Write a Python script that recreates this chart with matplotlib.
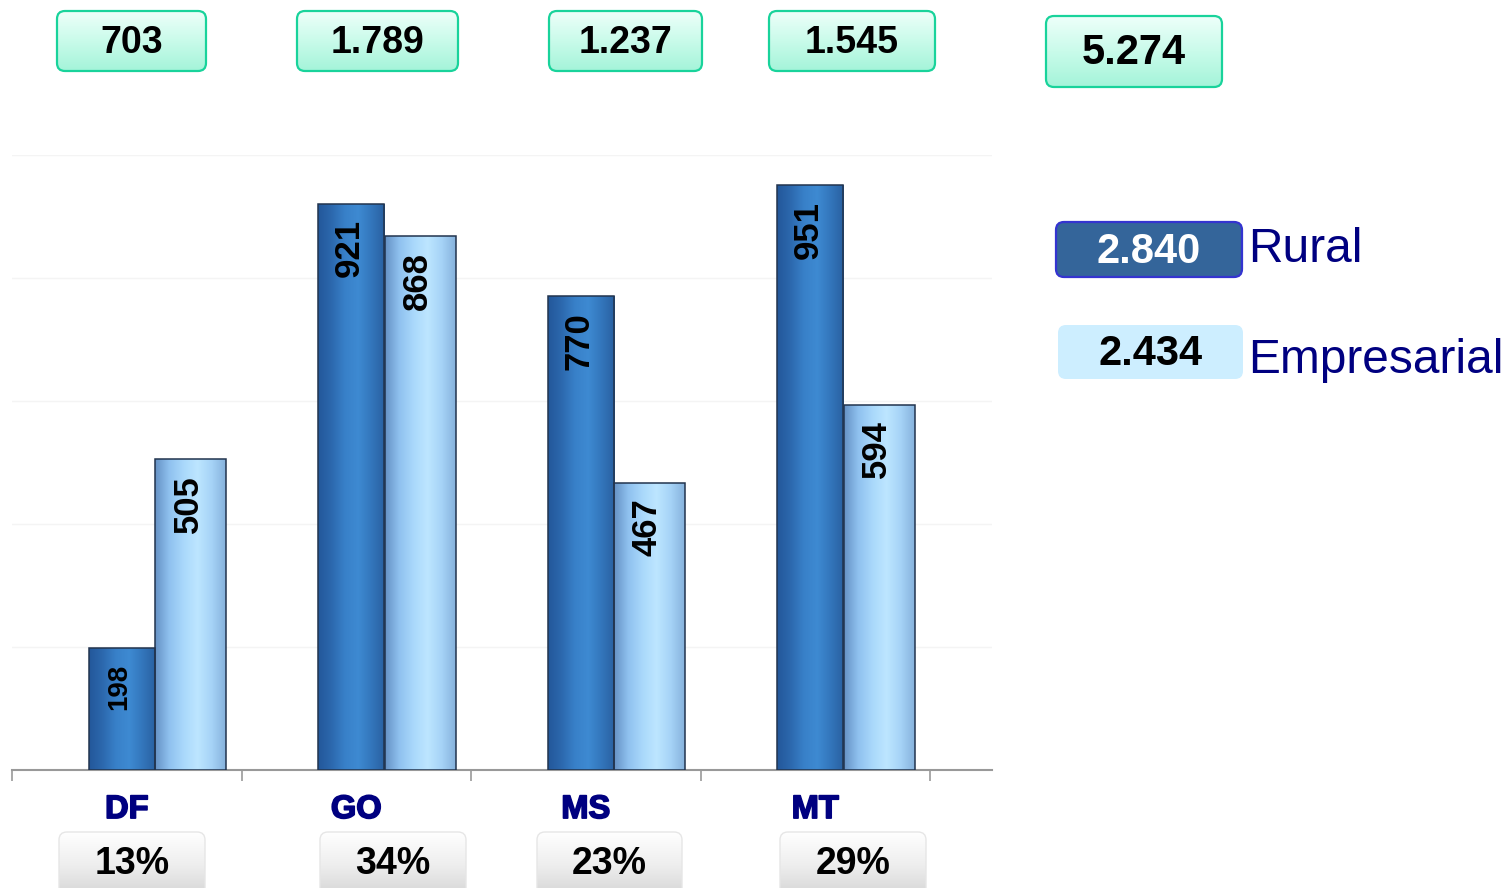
import matplotlib
matplotlib.use('Agg')
import matplotlib.pyplot as plt
import matplotlib.patheffects as pe
import numpy as np
from matplotlib import font_manager
from matplotlib.patches import FancyBboxPatch
from matplotlib.colors import LinearSegmentedColormap

# data
states = ['DF', 'GO', 'MS', 'MT']
rural = [198, 921, 770, 951]
empresarial = [505, 868, 467, 594]
series_names = ['Rural', 'Empresarial']

totals = [r + e for r, e in zip(rural, empresarial)]
grand = sum(totals)


def fmt(n):
    return f'{n:,}'.replace(',', '.')


plt.rcParams['font.family'] = ['Liberation Sans', 'DejaVu Sans']
names = {f.name for f in font_manager.fontManager.ttflist}
narrow = 'Liberation Sans Narrow' in names
bar_font = ['Liberation Sans Narrow', 'Liberation Sans'] if narrow else ['Liberation Sans']
bar_fs = 29 if narrow else 25

W, H = 1510, 888
fig = plt.figure(figsize=(W / 100, H / 100), dpi=100)

# bar chart axes
ax = fig.add_axes([12 / W, 118 / H, 980 / W, 615 / H], zorder=1)
# overlay in pixel coordinates for the boxes
over = fig.add_axes([0, 0, 1, 1], zorder=2)
over.axis('off')

dark = LinearSegmentedColormap.from_list(
    'dark', ['#23579a', '#2c68ad', '#3880c8', '#3e8ad2', '#3376bc', '#2960a0'])
light = LinearSegmentedColormap.from_list(
    'light', ['#6591c4', '#8fc1ef', '#a9d8fb', '#bde6ff', '#a6d3f7', '#86b2dc'])
hgrad = np.linspace(0, 1, 256).reshape(1, -1)

x = np.arange(len(states))
for vals, off, w, cmap in [(rural, 0.479, 0.288, dark),
                           (empresarial, 0.778, 0.309, light)]:
    bars = ax.bar(x + off, vals, width=w, facecolor='none',
                  edgecolor='#22344e', linewidth=1.1, zorder=4)
    for b, v in zip(bars, vals):
        x0 = b.get_x()
        im = ax.imshow(hgrad, cmap=cmap, extent=[x0, x0 + b.get_width(), 0, v],
                       aspect='auto', interpolation='bicubic', zorder=3)
        im.set_clip_path(b)
        fs = bar_fs if v > 300 else bar_fs - 5
        ax.text(x0 + b.get_width() / 2 - 0.01, v - 25, str(v), rotation=90,
                ha='center', va='top', fontsize=fs, fontweight='bold',
                family=bar_font, color='black', zorder=5)

ax.set_xlim(0, 980 / 229.5)
ax.set_ylim(0, 1000)
ax.set_yticks(range(200, 1001, 200))
ax.yaxis.grid(True, color='#f4f4f4', lw=1)
ax.set_axisbelow(True)
ax.tick_params(axis='y', left=False, labelleft=False)
ax.set_xticks(range(len(states) + 1))
ax.tick_params(axis='x', direction='out', length=8, width=1.2,
               color='#999999', labelbottom=False)
for s in ['left', 'right', 'top']:
    ax.spines[s].set_visible(False)
ax.spines['bottom'].set_color('#999999')
ax.spines['bottom'].set_linewidth(1.5)

for i, s in enumerate(states):
    ax.annotate(s, (i + 0.5, 0), xytext=(0, -28.5), textcoords='offset points',
                ha='center', va='center', fontsize=23.5, fontweight='bold',
                color='#000080',
                path_effects=[pe.withStroke(linewidth=1.2, foreground='#000080')])


def box(x0, y0, bw, bh, text, fs, colors=None, fc='none', ec='none', lw=1.6,
        tc='black', r=8):
    p = FancyBboxPatch((x0, y0), bw, bh,
                       boxstyle=f'round,pad=0,rounding_size={r}',
                       fc=fc, ec=ec, lw=lw, zorder=6)
    over.add_patch(p)
    if colors is not None:
        cm = LinearSegmentedColormap.from_list('g', colors)
        im = over.imshow(np.linspace(0, 1, 256).reshape(-1, 1), cmap=cm,
                         extent=(x0, x0 + bw, y0 + bh, y0), origin='upper',
                         aspect='auto', interpolation='bicubic', zorder=5)
        im.set_clip_path(p)
    over.text(x0 + bw / 2, y0 + bh / 2 + 2, text, ha='center', va='center',
              fontsize=fs, fontweight='bold', color=tc, zorder=7)


mint = ['#eefffa', '#c9fbea', '#a4f4d9']
top_boxes = [(57, 11, 149, 60), (297, 11, 161, 60),
             (549, 11, 153, 60), (769, 11, 166, 60)]
for (bx, by, bw, bh), t in zip(top_boxes, totals):
    box(bx, by, bw, bh, fmt(t), 27, colors=mint, ec='#19d39b')
box(1046, 16, 176, 71, fmt(grand), 30, colors=mint, ec='#19d39b')

# percentage boxes
gray = ['#ffffff', '#eeeeee', '#d4d4d4']
pct_boxes = [(59, 832, 146, 66), (320, 832, 146, 66),
             (537, 832, 145, 66), (780, 832, 146, 66)]
for (bx, by, bw, bh), t in zip(pct_boxes, totals):
    p = FancyBboxPatch((bx, by), bw, bh, boxstyle='round,pad=0,rounding_size=8',
                       fc='none', ec='#e6e6e6', lw=1, zorder=6)
    over.add_patch(p)
    im = over.imshow(np.linspace(0, 1, 256).reshape(-1, 1),
                     cmap=LinearSegmentedColormap.from_list('gr', gray),
                     extent=(bx, bx + bw, by + bh, by), origin='upper',
                     aspect='auto', interpolation='bicubic', zorder=5)
    im.set_clip_path(p)
    over.text(bx + bw / 2, 864, f'{round(t / grand * 100)}%', ha='center',
              va='center', fontsize=27, fontweight='bold', color='black', zorder=7)

# legend
box(1056, 222, 186, 55, fmt(sum(rural)), 30, fc='#34659a', ec='#3434d0',
    tc='white')
box(1058, 325, 185, 54, fmt(sum(empresarial)), 30, fc='#cdeeff', ec='none')
over.text(1248, 262, series_names[0], ha='left', va='baseline', fontsize=34.5,
          color='#000080', zorder=7)
over.text(1248, 373, series_names[1], ha='left', va='baseline', fontsize=34.5,
          color='#000080', zorder=7)

over.set_xlim(0, W)
over.set_ylim(H, 0)

fig.savefig('out.png', dpi=100)
